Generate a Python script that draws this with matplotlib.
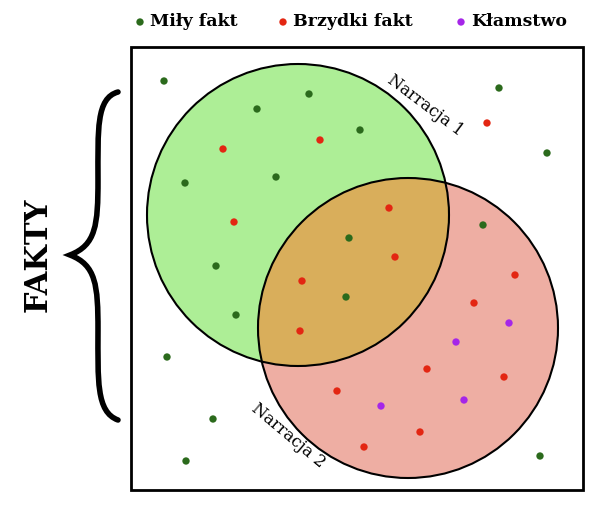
import matplotlib
matplotlib.use("Agg")
import matplotlib.pyplot as plt
from matplotlib.patches import Circle, Rectangle, PathPatch
from matplotlib.path import Path

green_x = [164,257,309,360,185,276,216,236,349,346,499,547,483,167,213,186,540]
green_y = [81,109,94,130,183,177,266,315,238,297,88,153,225,357,419,461,456]
red_x = [223,320,487,234,389,395,302,300,515,474,427,504,337,420,364]
red_y = [149,140,123,222,208,257,281,331,275,303,369,377,391,432,447]
purple_x = [509,456,381,464]
purple_y = [323,342,406,400]
legend_labels = ["Miły fakt", "Brzydki fakt", "Kłamstwo"]

G, R, P = "#2b6a1c", "#e32612", "#a526e8"

fig = plt.figure(figsize=(6, 5.14), dpi=100)
ax = fig.add_axes([0, 0, 1, 1])
ax.set_xlim(0, 600); ax.set_ylim(514, 0); ax.axis("off")

ax.add_patch(Rectangle((131, 47), 452, 443, fill=False, lw=2, ec="black", zorder=1))
ax.add_patch(Circle((298, 215), 151, fc="#adee96", ec="none", zorder=2))
ax.add_patch(Circle((408, 328), 150, fc="#eeaea3", ec="none", zorder=2))
clipc = Circle((408, 328), 150, transform=ax.transData)
ov = Circle((298, 215), 151, fc="#d9ae5b", ec="none", zorder=3)
ax.add_patch(ov)
ov.set_clip_path(clipc)
ax.add_patch(Circle((408, 328), 150, fill=False, ec="black", lw=1.5, zorder=4))
ax.add_patch(Circle((298, 215), 151, fill=False, ec="black", lw=1.5, zorder=4))

for xs, ys, c in [(green_x, green_y, G), (red_x, red_y, R), (purple_x, purple_y, P)]:
    ax.scatter(xs, ys, s=28, color=c, zorder=5, edgecolors="none")

ax.text(425, 105, "Narracja 1", rotation=-37, fontsize=12, family="DejaVu Serif",
        ha="center", va="center", zorder=6)
ax.text(288, 436, "Narracja 2", rotation=-40, fontsize=12, family="DejaVu Serif",
        ha="center", va="center", zorder=6)
ax.text(38, 255, "FAKTY", rotation=90, fontsize=22, fontweight="bold",
        family="DejaVu Serif", ha="center", va="center")

verts = [(118, 92), (96, 98), (98, 130), (98, 180), (98, 225), (96, 245), (70, 255),
         (96, 265), (98, 285), (98, 330), (98, 380), (96, 412), (118, 420)]
codes = [Path.MOVETO] + [Path.CURVE4] * 12
ax.add_patch(PathPatch(Path(verts, codes), fill=False, lw=4, ec="black", capstyle="round"))

lx = [140, 283, 461]
for x, lab, c in zip(lx, legend_labels, [G, R, P]):
    ax.scatter([x], [22], s=28, color=c, edgecolors="none")
    ax.text(x + 10, 22, lab, fontsize=12.5, fontweight="bold", family="DejaVu Serif",
            ha="left", va="center")

fig.savefig("out.png", dpi=100)
